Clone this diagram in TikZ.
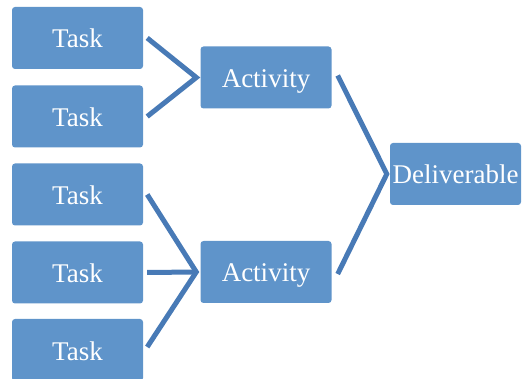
\documentclass[tikz,border=0pt]{standalone}
\usepackage{fontspec}
\setmainfont{Liberation Serif}
\definecolor{boxblue}{RGB}{95,148,202}
\definecolor{linkblue}{RGB}{72,122,182}
\tikzstyle{box}=[rectangle, rounded corners=3pt, fill=boxblue, text=white,
    minimum width=131pt, minimum height=62pt, inner sep=0pt,
    text height=22pt, text depth=2pt,
    font=\fontsize{27}{30}\selectfont]
\tikzstyle{link}=[draw=linkblue, line width=5pt]

\begin{document}
\begin{tikzpicture}[x=1pt, y=-1pt]
    \useasboundingbox (0,0) rectangle (522,379);
% Tasks
    \node[box] (t1) at (77.5,38) {Task};
    \node[box] (t2) at (77.5,116.5) {Task};
    \node[box] (t3) at (77.5,194.5) {Task};
    \node[box] (t4) at (77.5,272.5) {Task};
    \node[box] (t5) at (77.5,350) {Task};
% Activities
    \node[box] (a1) at (266,77.5) {Activity};
    \node[box] (a2) at (266,272) {Activity};
% Deliverable
    \node[box] (d) at (455.5,174) {Deliverable};
% Joints
    \coordinate (j1) at ([xshift=-4]a1.west);
    \coordinate (j2) at ([xshift=-4]a2.west);
    \coordinate (j3) at ([xshift=-3]d.west);
% Links
    \draw[link] ([xshift=4]t1.east) -- (j1) -- ([xshift=4]t2.east);
    \draw[link] ([xshift=4]t3.east) -- (j2) -- ([xshift=4,yshift=3]t5.east);
    \draw[link] ([xshift=4]t4.east) -- (j2);
    \draw[link] ([xshift=6,yshift=2]a1.east) -- (j3) -- ([xshift=6,yshift=-2]a2.east);
\end{tikzpicture}
\end{document}
